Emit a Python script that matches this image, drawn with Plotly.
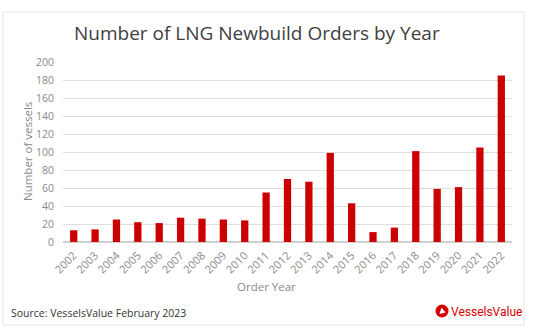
import plotly.graph_objects as go

years = ["2002", "2003", "2004", "2005", "2006", "2007", "2008", "2009", "2010", "2011",
         "2012", "2013", "2014", "2015", "2016", "2017", "2018", "2019", "2020", "2021", "2022"]
orders = [13, 14, 25, 22, 21, 27, 26, 25, 24, 55, 70, 67, 99, 43, 11, 16, 101, 59, 61, 105, 185]
y_ticks = [0, 20, 40, 60, 80, 100, 120, 140, 160, 180, 200]

W, H = 536, 332
L, R, T, B = 63, 24, 62, 90
PW, PH = W - L - R, H - T - B


def px(x):
    return (x - L) / PW


def py(y):
    return (H - B - y) / PH


fig = go.Figure()
fig.add_trace(go.Bar(x=years, y=orders, marker=dict(color="#cc0000", line=dict(width=0)),
                     hoverinfo="x+y"))

fig.update_layout(
    width=W, height=H,
    margin=dict(l=L, r=R, t=T, b=B, pad=0),
    paper_bgcolor="white", plot_bgcolor="white",
    showlegend=False, bargap=0.66,
    font=dict(family="Open Sans", color="#808080", size=10),
)
fig.update_yaxes(range=[0, 200], tickvals=y_ticks, showgrid=True, gridcolor="#dedede",
                 gridwidth=1, zeroline=True, zerolinecolor="#d0d0d0", showline=False,
                 ticklabelstandoff=8, tickfont=dict(size=10.5, color="#8a8a8a"))
fig.update_xaxes(tickangle=-45, showline=False, showgrid=False,
                 tickfont=dict(size=11, color="#8a8a8a"), ticklabelstandoff=4)

# border frame
fig.add_shape(type="rect", xref="paper", yref="paper", x0=px(3), x1=px(524), y0=py(325), y1=py(12),
              line=dict(color="#e4e4e4", width=1), fillcolor="rgba(0,0,0,0)", layer="below")

# title
fig.add_annotation(text="Number of LNG Newbuild Orders by Year", xref="paper", yref="paper",
                   x=px(257), y=py(33), xanchor="center", yanchor="middle", showarrow=False,
                   font=dict(family="Open Sans", size=19, color="#404040"))
# y title
fig.add_annotation(text="Number of vessels", xref="paper", yref="paper", x=px(27), y=py(152),
                   xanchor="center", yanchor="middle", textangle=-90, showarrow=False,
                   font=dict(family="Open Sans", size=11.5, color="#8a8a8a"))
# x title
fig.add_annotation(text="Order Year", xref="paper", yref="paper", x=px(266), y=py(286),
                   xanchor="center", yanchor="middle", showarrow=False,
                   font=dict(family="Open Sans", size=11.5, color="#8a8a8a"))
# source
fig.add_annotation(text="Source: VesselsValue February 2023", xref="paper", yref="paper",
                   x=px(9), y=py(313), xanchor="left", yanchor="middle", showarrow=False,
                   font=dict(family="Open Sans", size=10.5, color="#353535"))
# logo text
fig.add_annotation(text="VesselsValue", xref="paper", yref="paper", x=px(449), y=py(312),
                   xanchor="left", yanchor="middle", showarrow=False,
                   font=dict(family="Roboto", size=12, color="#d40000"))
# logo circle
cx, cy, r = 442, 311, 6.5
fig.add_shape(type="circle", xref="paper", yref="paper", x0=px(cx - r), x1=px(cx + r),
              y0=py(cy + r), y1=py(cy - r), fillcolor="#d40000", line=dict(width=0))
tri = "M {} {} L {} {} L {} {} Z".format(px(cx - 2.5), py(cy + 3), px(cx + 3.5), py(cy + 1.5),
                                         px(cx - 0.5), py(cy - 3.5))
fig.add_shape(type="path", xref="paper", yref="paper", path=tri, fillcolor="white",
              line=dict(width=0))

fig.write_html("out.html")
